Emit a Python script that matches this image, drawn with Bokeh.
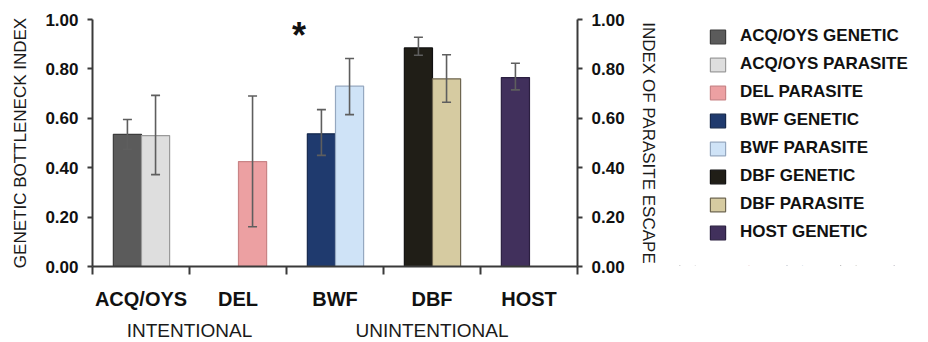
from bokeh.plotting import figure
from bokeh.layouts import row
from bokeh.models import (FactorRange, Range1d, ColumnDataSource, LinearAxis, CategoricalAxis,
                          FixedTicker, PrintfTickFormatter, Whisker, TeeHead, Legend, LegendItem)
from bokeh.transform import dodge
from bokeh.core.properties import value
from bokeh.embed import file_html
from bokeh.resources import INLINE

# ---------------- data ----------------
categories = ["ACQ/OYS", "DEL", "BWF", "DBF", "HOST"]
groups = ["INTENTIONAL", "INTENTIONAL", "UNINTENTIONAL", "UNINTENTIONAL", "UNINTENTIONAL"]
genetic = [0.535, None, 0.537, 0.885, 0.765]
genetic_lo = [0.475, None, 0.450, 0.855, 0.715]
genetic_hi = [0.595, None, 0.635, 0.928, 0.823]
parasite = [0.530, 0.425, 0.730, 0.760, None]
parasite_lo = [0.372, 0.161, 0.615, 0.665, None]
parasite_hi = [0.693, 0.690, 0.842, 0.857, None]
y_ticks = [0.0, 0.2, 0.4, 0.6, 0.8, 1.0]
significant = ("UNINTENTIONAL", "BWF")

# ---------------- styles ----------------
gen_fill = {"ACQ/OYS": "#5b5b5b", "BWF": "#1f3a6e", "DBF": "#201e17", "HOST": "#41305c"}
gen_line = {"ACQ/OYS": "#3c3c3c", "BWF": "#15284d", "DBF": "#111111", "HOST": "#2b1f40"}
par_fill = {"ACQ/OYS": "#dedede", "DEL": "#eca0a2", "BWF": "#cfe3f7", "DBF": "#d6cba1"}
par_line = {"ACQ/OYS": "#9a9a9a", "DEL": "#c98486", "BWF": "#95a8c0", "DBF": "#6e6650"}
FONT = "Liberation Sans"
AX = "#3a3a3a"
ERR = "#5e5e5e"

def build(vals, lo, hi, fills, lines):
    d = dict(x=[], top=[], lo=[], hi=[], fill=[], line=[], cat=[])
    for g, c, v, l, h in zip(groups, categories, vals, lo, hi):
        if v is None:
            continue
        d["x"].append((g, c)); d["top"].append(v); d["lo"].append(l); d["hi"].append(h)
        d["fill"].append(fills[c]); d["line"].append(lines[c]); d["cat"].append(c)
    return ColumnDataSource(d)

gen_src = build(genetic, genetic_lo, genetic_hi, gen_fill, gen_line)
par_src = build(parasite, parasite_lo, parasite_hi, par_fill, par_line)

factors = list(zip(groups, categories))
xr = FactorRange(factors=factors, group_padding=0, factor_padding=0, range_padding=0)
p = figure(x_range=xr, y_range=Range1d(0, 1), frame_width=485, frame_height=247,
           output_backend="svg", toolbar_location=None,
           x_axis_location=None, y_axis_location=None,
           min_border_left=92, min_border_right=83, min_border_top=19, min_border_bottom=76)
p.xgrid.visible = False
p.ygrid.visible = False
p.outline_line_color = None
p.background_fill_color = "white"

# boundary tick axis (ticks between categories, in synthetic coordinates)
tick_axis = LinearAxis(ticker=FixedTicker(ticks=list(range(len(categories) + 1)), minor_ticks=[]),
                       major_tick_out=8, major_tick_in=0, major_tick_line_color=AX, major_tick_line_width=2,
                       axis_line_color=AX, axis_line_width=2,
                       major_label_text_font_size="1px", major_label_text_alpha=0, major_label_standoff=0)
p.add_layout(tick_axis, "below")

cat_axis = CategoricalAxis(major_tick_line_color=None, minor_tick_line_color=None, axis_line_color=None,
                           major_label_text_font=FONT, major_label_text_font_size="20px",
                           major_label_text_font_style="bold", major_label_text_color="#111111",
                           major_label_standoff=7,
                           group_text_font=FONT, group_text_font_size="19px", group_text_font_style="normal",
                           group_text_color="#1a1a1a", separator_line_color=None)
p.add_layout(cat_axis, "below")

def yaxis(label, standoff):
    return LinearAxis(ticker=FixedTicker(ticks=y_ticks, minor_ticks=[]),
                      formatter=PrintfTickFormatter(format="%.2f"),
                      axis_label=label, axis_label_text_font=FONT, axis_label_text_font_size="17px",
                      axis_label_text_font_style="normal", axis_label_text_color="#1a1a1a",
                      axis_label_standoff=standoff,
                      major_label_text_font=FONT, major_label_text_font_size="17px",
                      major_label_text_font_style="bold", major_label_text_color="#111111",
                      major_label_standoff=9,
                      major_tick_out=5, major_tick_in=0, major_tick_line_color=AX, major_tick_line_width=2,
                      minor_tick_line_color=None, axis_line_color=AX, axis_line_width=2)

p.add_layout(yaxis("GENETIC BOTTLENECK INDEX", 12), "left")
p.add_layout(yaxis("INDEX OF PARASITE ESCAPE", 11), "right")

GEN_OFF, PAR_OFF, W = -0.14, 0.15, 0.29
bar_style = dict(fill_color="fill", line_color="line", line_width=1.2)
p.vbar(x=dodge("x", GEN_OFF, range=xr), top="top", width=W, source=gen_src, **bar_style)
p.vbar(x=dodge("x", PAR_OFF, range=xr), top="top", width=W, source=par_src, **bar_style)

for src, off in ((gen_src, GEN_OFF), (par_src, PAR_OFF)):
    w = Whisker(source=src, base=dodge("x", off, range=xr), upper="hi", lower="lo",
                dimension="height", line_color=ERR, line_width=1.6, level="annotation",
                upper_head=TeeHead(size=9, line_color=ERR, line_width=1.6),
                lower_head=TeeHead(size=9, line_color=ERR, line_width=1.6))
    p.add_layout(w)

# significance asterisk
star_src = ColumnDataSource(dict(x=[significant], y=[0.936], t=["*"]))
p.text(x=dodge("x", -0.37, range=xr), y="y", text="t", source=star_src,
       text_font=value(FONT), text_font_size="36px", text_font_style="bold",
       text_align="center", text_baseline="alphabetic", text_color="#111111")

# ---------------- legend panel (separate figure to the right) ----------------
lf = figure(x_range=xr, y_range=Range1d(5, 6), width=928 - 660, height=342,
            output_backend="svg", toolbar_location=None,
            x_axis_location=None, y_axis_location=None,
            min_border_left=0, min_border_right=0, min_border_top=0, min_border_bottom=0)
lf.xgrid.visible = False
lf.ygrid.visible = False
lf.outline_line_color = None
# degenerate (zero-size) copies of the bars, used only for the legend swatches
lg = lf.vbar(x=dodge("x", GEN_OFF, range=xr), top="top", bottom="top", width=0, source=gen_src, **bar_style)
lp = lf.vbar(x=dodge("x", PAR_OFF, range=xr), top="top", bottom="top", width=0, source=par_src, **bar_style)

items = []
gi = pi = 0
for c, gv, pv in zip(categories, genetic, parasite):
    if gv is not None:
        items.append(LegendItem(label=f"{c} GENETIC", renderers=[lg], index=gi)); gi += 1
    if pv is not None:
        items.append(LegendItem(label=f"{c} PARASITE", renderers=[lp], index=pi)); pi += 1

legend = Legend(items=items, location=(48, 23), orientation="vertical",
                border_line_color=None, background_fill_alpha=0,
                label_text_font=FONT, label_text_font_size="17px", label_text_font_style="bold",
                label_text_color="#111111", glyph_width=19, glyph_height=17, label_height=17,
                label_standoff=13, spacing=8, padding=0, margin=0)
lf.add_layout(legend)

layout = row(p, lf)
open("out.html", "w").write(file_html(layout, INLINE))
